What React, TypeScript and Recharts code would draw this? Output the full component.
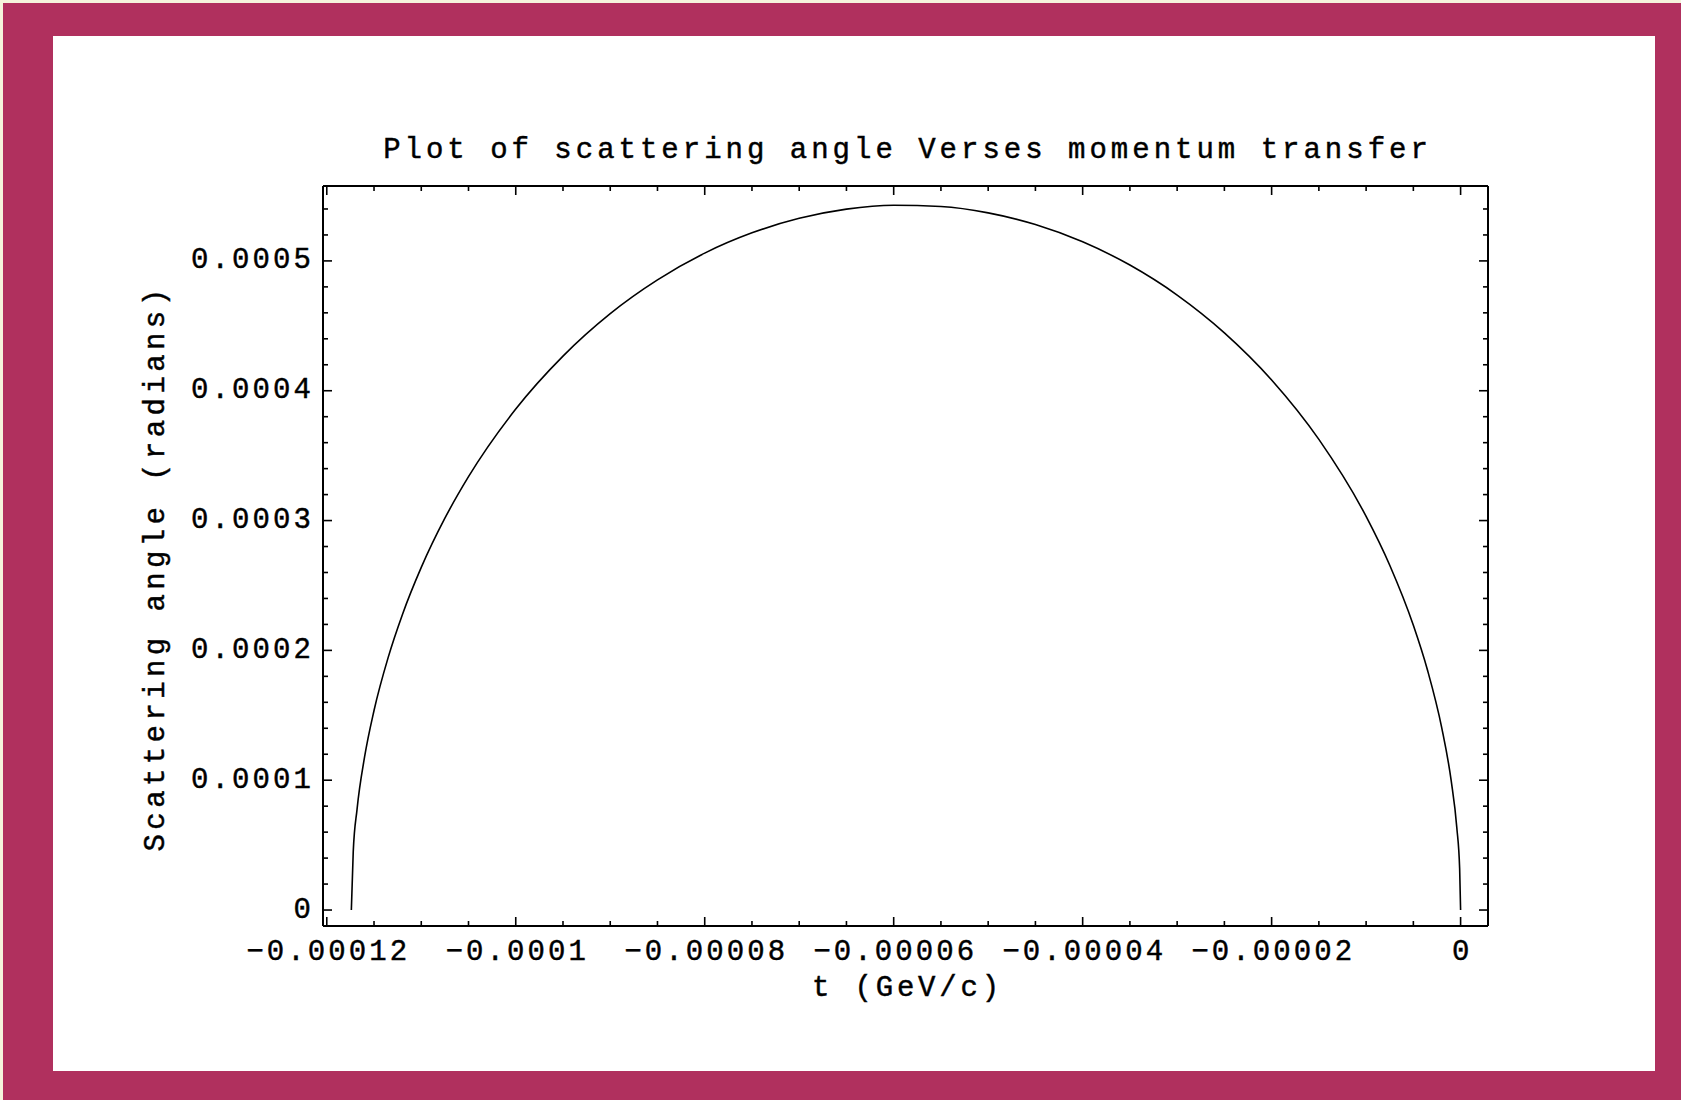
import { LineChart, Line, XAxis, YAxis, Label } from "recharts";

// momentum transfer t (GeV/c)
const tValues = [
  -0.0001174, -0.0001172, -0.0001168, -0.000116, -0.000115, -0.0001135,
  -0.000112, -0.00011, -0.0001075, -0.000105, -0.0001, -0.000095, -0.00009,
  -0.000085, -0.00008, -0.000075, -0.00007, -0.000065, -0.00006, -0.000055,
  -0.00005, -0.000045, -0.00004, -0.000035, -0.00003, -0.000025, -0.00002,
  -0.000015, -0.00001, -0.0000075, -0.000005, -0.0000035, -0.000002, -0.000001,
  -0.0000004, -0.0000001, 0,
];

// scattering angle (radians)
const angleValues = [
  0, 0.0000448, 0.0000774, 0.0001179, 0.0001537, 0.0001946, 0.0002275,
  0.0002639, 0.0003018, 0.0003338, 0.0003859, 0.0004267, 0.0004594, 0.0004854,
  0.000506, 0.0005216, 0.0005328, 0.0005399, 0.0005429, 0.0005419, 0.000537,
  0.000528, 0.0005147, 0.0004968, 0.0004737, 0.0004446, 0.0004083, 0.0003625,
  0.0003032, 0.0002656, 0.0002193, 0.0001847, 0.0001405, 0.0000998, 0.0000634,
  0.0000317, 0,
];

const xMajorTicks = [-0.00012, -0.0001, -0.00008, -0.00006, -0.00004, -0.00002, 0];
const xTickLabels = ["−0.00012", "−0.0001", "−0.00008", "−0.00006", "−0.00004", "−0.00002", "0"];
const yMajorTicks = [0, 0.0001, 0.0002, 0.0003, 0.0004, 0.0005];
const yTickLabels = ["0", "0.0001", "0.0002", "0.0003", "0.0004", "0.0005"];

const xDomain = [-0.0001204, 0.0000029];
const yDomain = [-0.0000123, 0.0005577];

// minor ticks every 0.000005 on t and every 0.00002 on the angle
const xAllTicks: number[] = [];
for (let i = -24; i <= 0; i++) xAllTicks.push(Number((i * 0.000005).toFixed(9)));
const yAllTicks: number[] = [];
for (let i = 0; i <= 27; i++) yAllTicks.push(Number((i * 0.00002).toFixed(9)));

const data = tValues.map((t, i) => ({ t, angle: angleValues[i] }));

const FONT = "'Liberation Mono', 'Courier New', monospace";
const MAGENTA = "#b0305e";
const CREAM = "#f5f3dc";
const FS = 29;
const LS = 3.1;

const textStyle = {
  fontFamily: FONT,
  fontSize: FS,
  fill: "#000",
  stroke: "#000",
  strokeWidth: 0.45,
};

const majorIndex = (list: number[], v: number) =>
  list.findIndex((m) => Math.abs(m - v) < 1e-9);

const BottomTick = (props: any) => {
  const { x, y, payload } = props;
  const idx = majorIndex(xMajorTicks, payload.value);
  const len = idx >= 0 ? 9 : 5;
  return (
    <g>
      <line x1={x} x2={x} y1={y} y2={y - len} stroke="#000" strokeWidth={1.6} />
      {idx >= 0 && (
        <text
          x={x + LS / 2}
          y={y + 26}
          textAnchor="middle"
          dominantBaseline="central"
          letterSpacing={LS}
          {...textStyle}
        >
          {xTickLabels[idx]}
        </text>
      )}
    </g>
  );
};

const TopTick = (props: any) => {
  const { x, y, payload } = props;
  const len = majorIndex(xMajorTicks, payload.value) >= 0 ? 9 : 5;
  return <line x1={x} x2={x} y1={y} y2={y + len} stroke="#000" strokeWidth={1.6} />;
};

const LeftTick = (props: any) => {
  const { x, y, payload } = props;
  const idx = majorIndex(yMajorTicks, payload.value);
  const len = idx >= 0 ? 9 : 5;
  return (
    <g>
      <line x1={x} x2={x + len} y1={y} y2={y} stroke="#000" strokeWidth={1.6} />
      {idx >= 0 && (
        <text
          x={x - 12 + LS}
          y={y}
          textAnchor="end"
          dominantBaseline="central"
          letterSpacing={LS}
          {...textStyle}
        >
          {yTickLabels[idx]}
        </text>
      )}
    </g>
  );
};

const RightTick = (props: any) => {
  const { x, y, payload } = props;
  const len = majorIndex(yMajorTicks, payload.value) >= 0 ? 9 : 5;
  return <line x1={x} x2={x - len} y1={y} y2={y} stroke="#000" strokeWidth={1.6} />;
};

const axisLine = { stroke: "#000", strokeWidth: 2 };

export default function App() {
  return (
    <div style={{ position: "absolute", left: 0, top: 0, width: 1681, height: 1100, background: CREAM }}>
      <div style={{ position: "absolute", left: 3, top: 3, width: 1678, height: 1097, background: MAGENTA }} />
      <div style={{ position: "absolute", left: 53, top: 36, width: 1602, height: 1035, background: "#fff" }} />
      <div style={{ position: "absolute", left: 0, top: 0 }}>
        <LineChart
          width={1681}
          height={1100}
          data={data}
          margin={{ top: 166, right: 173, bottom: 114, left: 223 }}
        >
          <XAxis
            xAxisId="bottom"
            dataKey="t"
            type="number"
            domain={xDomain}
            allowDataOverflow
            ticks={xAllTicks}
            interval={0}
            tick={<BottomTick />}
            tickLine={false}
            tickSize={0}
            tickMargin={0}
            axisLine={axisLine}
            height={60}
          >
            <Label
              content={(p: any) => {
                const vb = p.viewBox;
                return (
                  <text
                    x={vb.x + vb.width / 2 + 2}
                    y={vb.y + 62}
                    textAnchor="middle"
                    dominantBaseline="central"
                    letterSpacing={3.8}
                    {...textStyle}
                  >
                    t (GeV/c)
                  </text>
                );
              }}
            />
          </XAxis>
          <XAxis
            xAxisId="top"
            orientation="top"
            dataKey="t"
            type="number"
            domain={xDomain}
            allowDataOverflow
            ticks={xAllTicks}
            interval={0}
            tick={<TopTick />}
            tickLine={false}
            tickSize={0}
            tickMargin={0}
            axisLine={axisLine}
            height={20}
          >
            <Label
              content={(p: any) => {
                const vb = p.viewBox;
                return (
                  <text
                    x={vb.x + vb.width / 2 + 2}
                    y={vb.y - 16}
                    textAnchor="middle"
                    dominantBaseline="central"
                    letterSpacing={4.0}
                    {...textStyle}
                  >
                    Plot of scattering angle Verses momentum transfer
                  </text>
                );
              }}
            />
          </XAxis>
          <YAxis
            yAxisId="left"
            type="number"
            domain={yDomain}
            allowDataOverflow
            ticks={yAllTicks}
            interval={0}
            tick={<LeftTick />}
            tickLine={false}
            tickSize={0}
            tickMargin={0}
            axisLine={axisLine}
            width={100}
          >
            <Label
              content={(p: any) => {
                const vb = p.viewBox;
                const cx = vb.x + vb.width - 166.5;
                const cy = vb.y + vb.height / 2 + 12;
                return (
                  <text
                    x={cx}
                    y={cy}
                    transform={`rotate(-90 ${cx} ${cy})`}
                    textAnchor="middle"
                    dominantBaseline="central"
                    letterSpacing={4.4}
                    {...textStyle}
                  >
                    Scattering angle (radians)
                  </text>
                );
              }}
            />
          </YAxis>
          <YAxis
            yAxisId="right"
            orientation="right"
            type="number"
            domain={yDomain}
            allowDataOverflow
            ticks={yAllTicks}
            interval={0}
            tick={<RightTick />}
            tickLine={false}
            tickSize={0}
            tickMargin={0}
            axisLine={axisLine}
            width={20}
          />
          <Line
            xAxisId="bottom"
            yAxisId="left"
            dataKey="angle"
            type="monotone"
            dot={false}
            stroke="#000"
            strokeWidth={1.6}
            isAnimationActive={false}
          />
        </LineChart>
      </div>
    </div>
  );
}
